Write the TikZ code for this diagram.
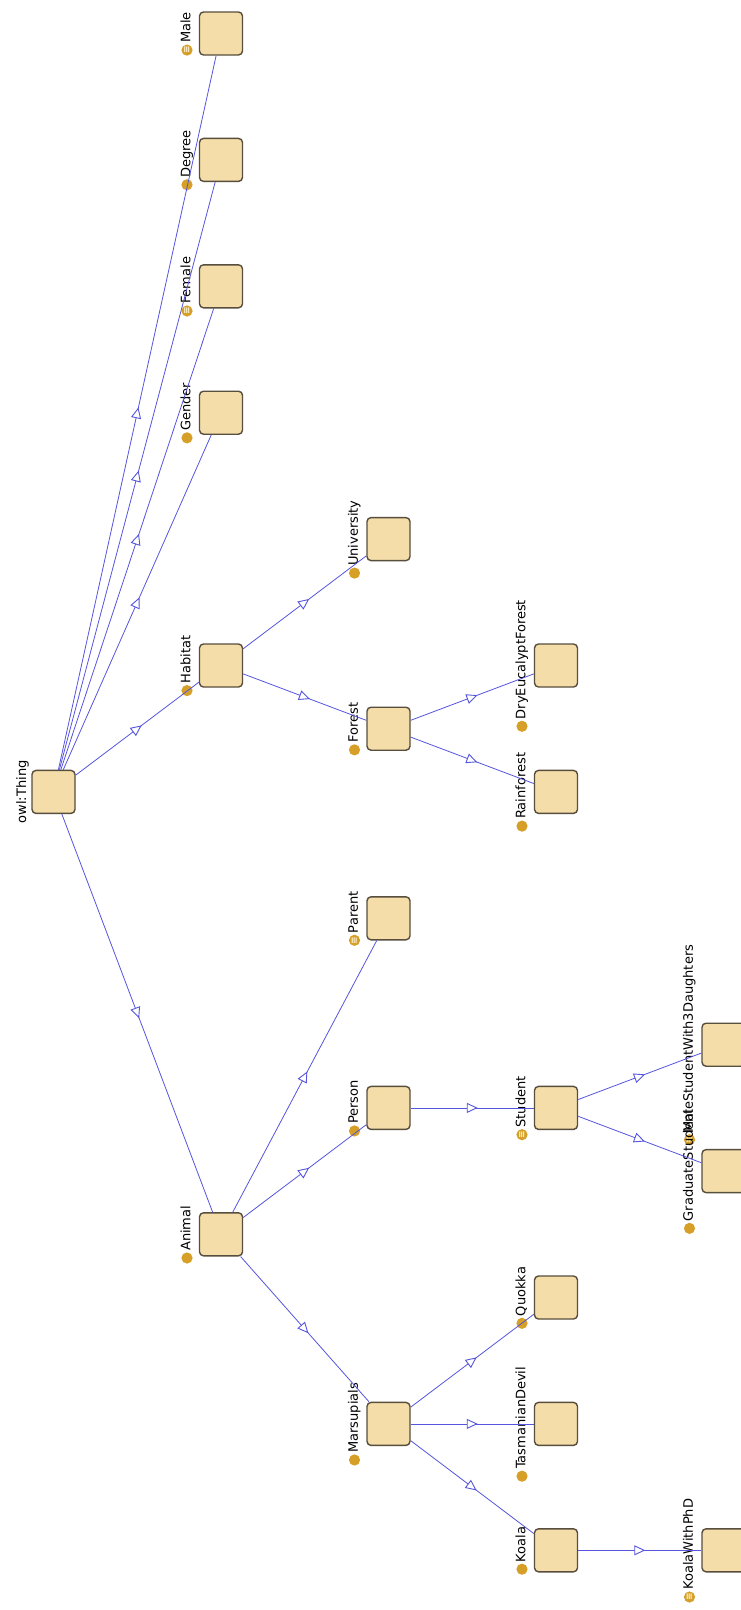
\documentclass[tikz,border=0pt]{standalone}
\usepackage{fontspec}
\setmainfont{DejaVu Sans}
\usetikzlibrary{arrows.meta,decorations.markings}
\definecolor{boxfill}{RGB}{244,221,168}
\definecolor{boxborder}{RGB}{88,78,62}
\definecolor{dotcol}{RGB}{214,160,40}
\definecolor{edgecol}{RGB}{85,85,222}
\definecolor{eqcol}{RGB}{255,245,215}
\tikzset{
  clsbox/.style={draw=boxborder, fill=boxfill, line width=1.4pt, rounded corners=4pt,
    minimum width=43pt, minimum height=43pt, inner sep=0pt},
  clslbl/.style={rotate=90, inner sep=0pt, text height=9pt, text depth=2.5pt,
    font=\fontsize{13}{15}\selectfont, text=black},
  eqmark/.style={rotate=90, inner sep=0pt, font=\fontsize{9}{9}\selectfont\bfseries, text=eqcol},
  isa/.style={draw=edgecol, line width=0.8pt, postaction={decorate},
    decoration={markings, mark=at position 0.5 with {\arrow[xshift=5.5pt, line width=0.9pt]{Triangle[fill=white, length=11pt, width=10pt]}}}}
}
\newcommand\clsnode[5]{%
  \node[clsbox] (#1) at ({#2+21.5},{33.5+126.4*#3}) {};
  \node[clslbl] (#1-l) at ({#2-12.5},{33.5+126.4*#3-6}) {#4};
  \fill[dotcol] ([yshift=-7pt]#1-l.west) circle (5.6pt);
  \ifnum#5=1 \node[eqmark] at ([yshift=-7pt]#1-l.west) {≡};\fi
}
\begin{document}
\begin{tikzpicture}[x=1pt,y=-1pt]
\useasboundingbox (0,0) rectangle (741,1610);
\fill[white] (0,0) rectangle (741,1610);
% owl:Thing
\node[clsbox] (thing) at ({32+21.5},{33.5+126.4*6}) {};
\node[clslbl] (thing-l) at ({32-9},{33.5+126.4*6}) {owl:Thing};
% column 2
\clsnode{male}{199.5}{0}{Male}{1}
\clsnode{degree}{199.5}{1}{Degree}{0}
\clsnode{female}{199.5}{2}{Female}{1}
\clsnode{gender}{199.5}{3}{Gender}{0}
\clsnode{habitat}{199.5}{5}{Habitat}{0}
\clsnode{animal}{199.5}{9.5}{Animal}{0}
% column 3
\clsnode{university}{367}{4}{University}{0}
\clsnode{forest}{367}{5.5}{Forest}{0}
\clsnode{parent}{367}{7}{Parent}{1}
\clsnode{person}{367}{8.5}{Person}{0}
\clsnode{marsupials}{367}{11}{Marsupials}{0}
% column 4
\clsnode{dry}{534.5}{5}{DryEucalyptForest}{0}
\clsnode{rain}{534.5}{6}{Rainforest}{0}
\clsnode{student}{534.5}{8.5}{Student}{1}
\clsnode{quokka}{534.5}{10}{Quokka}{0}
\clsnode{tasmanian}{534.5}{11}{TasmanianDevil}{0}
\clsnode{koala}{534.5}{12}{Koala}{0}
% column 5
\clsnode{msw}{702}{8}{MaleStudentWith3Daughters}{1}
\clsnode{grad}{702}{9}{GraduateStudent}{0}
\clsnode{koalaphd}{702}{12}{KoalaWithPhD}{1}
% edges
\foreach \c in {male,degree,female,gender,habitat,animal} \draw[isa] (thing) -- (\c);
\foreach \c in {university,forest} \draw[isa] (habitat) -- (\c);
\foreach \c in {dry,rain} \draw[isa] (forest) -- (\c);
\foreach \c in {parent,person,marsupials} \draw[isa] (animal) -- (\c);
\draw[isa] (person) -- (student);
\foreach \c in {msw,grad} \draw[isa] (student) -- (\c);
\foreach \c in {quokka,tasmanian,koala} \draw[isa] (marsupials) -- (\c);
\draw[isa] (koala) -- (koalaphd);
\end{tikzpicture}
\end{document}
